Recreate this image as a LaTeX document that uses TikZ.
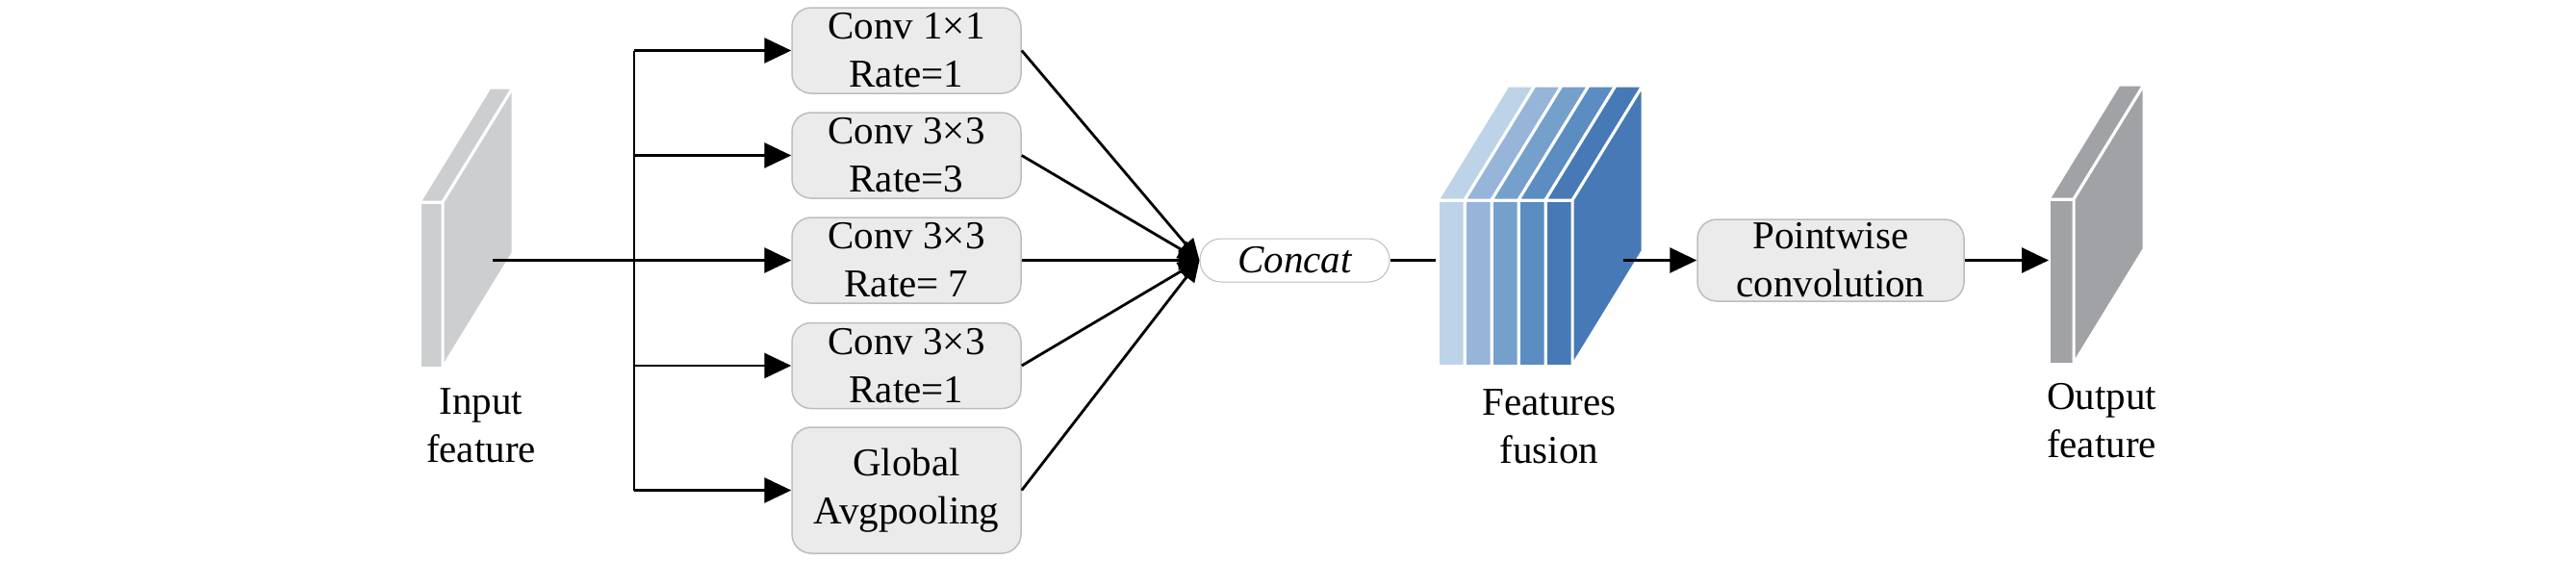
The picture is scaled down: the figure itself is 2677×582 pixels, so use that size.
\documentclass[tikz,border=0pt]{standalone}
\usepackage{fontspec}
\setmainfont{Liberation Serif}
\usetikzlibrary{arrows.meta}
\definecolor{boxfill}{HTML}{EBEBEB}
\definecolor{boxline}{HTML}{BDBDBD}
\definecolor{ingray}{HTML}{CDCED0}
\definecolor{outgray}{HTML}{A1A2A5}
\definecolor{fa}{HTML}{BDD3E8}
\definecolor{fb}{HTML}{96B5D8}
\definecolor{fc}{HTML}{75A0CC}
\definecolor{fd}{HTML}{5B8CC2}
\definecolor{fe}{HTML}{4679B6}
\newcommand\myslab[5]{%
  \filldraw[fill=#5,draw=white,line width=3pt,line join=round] (#1,#3) rectangle (#2,#4);
  \filldraw[fill=#5,draw=white,line width=3pt,line join=round] (#1,#3) -- (#2,#3) -- ({#2+73},{#3-119}) -- ({#1+73},{#3-119}) -- cycle;
  \filldraw[fill=#5,draw=white,line width=3pt,line join=round] (#2,#3) -- ({#2+73},{#3-119}) -- ({#2+73},{#4-119}) -- (#2,#4) -- cycle;
}
\begin{document}
\begin{tikzpicture}[x=1pt,y=-1pt,
  font=\fontsize{41}{50}\selectfont,
  convbox/.style={draw=boxline,fill=boxfill,rounded corners=20pt,minimum width=238pt,minimum height=89pt,align=center,inner sep=0pt,line width=1.5pt},
  lbl/.style={align=center,inner sep=0pt},
  conn/.style={line width=2.8pt},
  arr/.style={conn,-{Triangle[length=28pt,width=26pt]}},
  carr/.style={conn,-{Triangle[length=22pt,width=20pt]}}]
\useasboundingbox (0,0) rectangle (2677,582);

% input slab
\myslab{436}{460}{210}{382}{ingray}
% fusion slabs
\myslab{1494}{1522}{208}{380}{fa}
\myslab{1522}{1550}{208}{380}{fb}
\myslab{1550}{1578}{208}{380}{fc}
\myslab{1578}{1606}{208}{380}{fd}
\myslab{1606}{1634}{208}{380}{fe}
% output slab
\myslab{2129}{2155}{207}{378}{outgray}

\node[lbl] (inlbl) at (500,442) {Input\\feature};
\node[lbl] (fuslbl) at (1610,443) {Features\\fusion};
\node[lbl] (outlbl) at (2184,437) {Output\\feature};

\node[convbox] (b1) at (942,52.5) {Conv 1×1\\Rate=1};
\node[convbox] (b2) at (942,161.5) {Conv 3×3\\Rate=3};
\node[convbox] (b3) at (942,270.5) {Conv 3×3\\Rate= 7};
\node[convbox] (b4) at (942,380) {Conv 3×3\\Rate=1};
\node[convbox,minimum height=131pt] (b5) at (942,509.5) {Global\\Avgpooling};

\node[draw=boxline,fill=white,line width=1pt,rounded corners=22pt,minimum width=197pt,minimum height=45pt,inner sep=0pt,font=\fontsize{41}{50}\selectfont\itshape] (concat) at (1345.5,270.5) {Concat};

\node[convbox,minimum width=277pt,minimum height=85pt] (pw) at (1902.5,270.5) {Pointwise\\convolution};

\coordinate (inp) at (512,270.5);
\coordinate (vtop) at (659,52.5);
\coordinate (vbot) at (659,509.5);
\coordinate (v2) at (659,161.5);
\coordinate (v4) at (659,380);
\coordinate (fusin) at (1492,270.5);
\coordinate (fusout) at (1687,270.5);
\coordinate (outin) at (2129,270.5);

\draw[conn] (vtop) -- (vbot);
\draw[arr] (inp) -- (b3.west);
\draw[arr] (vtop) -- (b1.west);
\draw[arr] (v2) -- (b2.west);
\draw[arr] (v4) -- (b4.west);
\draw[arr] (vbot) -- (b5.west);

\draw[carr] (b1.east) -- (concat.west);
\draw[carr] (b2.east) -- (concat.west);
\draw[carr] (b3.east) -- (concat.west);
\draw[carr] (b4.east) -- (concat.west);
\draw[carr] (b5.east) -- (concat.west);

\draw[conn] (concat.east) -- (fusin);
\draw[arr] (fusout) -- (pw.west);
\draw[arr] (pw.east) -- (outin);
\end{tikzpicture}
\end{document}
